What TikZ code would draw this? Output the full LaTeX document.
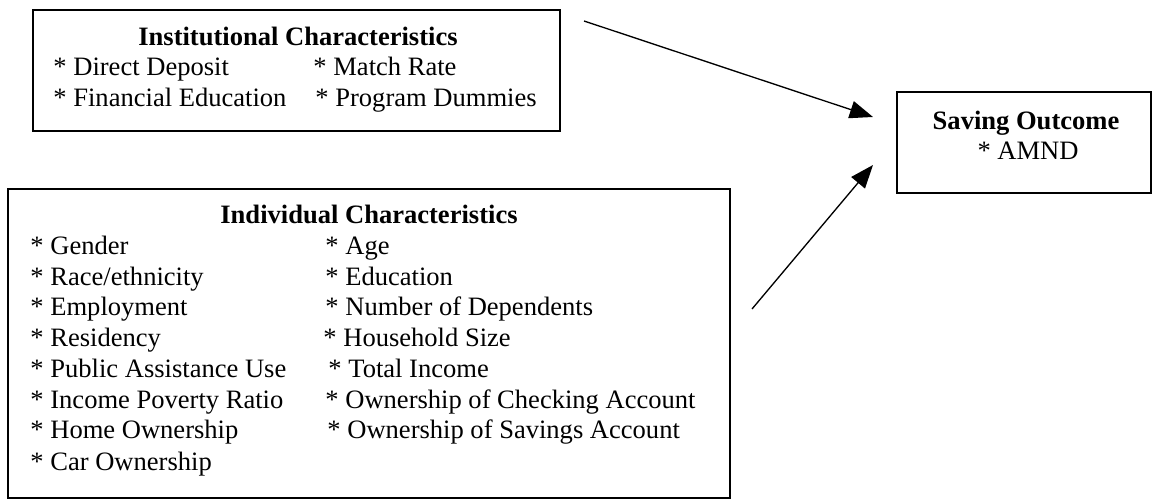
\documentclass[tikz,border=0pt]{standalone}
\usepackage{fontspec}
\setmainfont{Liberation Serif}
\usetikzlibrary{arrows.meta,fit}
\begin{document}
\begin{tikzpicture}[x=0.452pt,y=-0.452pt,
  box/.style={draw, line width=0.8pt, inner sep=0pt},
  txt/.style={anchor=base west, inner sep=0pt, font=\fontsize{12}{14}\selectfont},
  ttl/.style={anchor=base, inner sep=0pt, font=\fontsize{12}{14}\selectfont\bfseries},
  link/.style={-{Triangle[length=10.5pt,width=8pt]}, line width=0.6pt}]
\useasboundingbox (0,0) rectangle (1154,500);
% boxes
\node[box, fit={(33,10) (560,131)}] (inst) {};
\node[box, fit={(8,189) (730,498)}] (indiv) {};
\node[box, fit={(897,92) (1151,193)}] (outcome) {};
% institutional
\node[ttl] (instT) at (298,46) {Institutional Characteristics};
\node[txt] (i1) at (53,76) {* Direct Deposit};
\node[txt] (i2) at (313,76) {* Match Rate};
\node[txt] (i3) at (53,107) {* Financial Education};
\node[txt] (i4) at (315,107) {* Program Dummies};
% individual
\node[ttl] (indT) at (369,224) {Individual Characteristics};
\node[txt] (d1) at (30,255) {* Gender};
\node[txt] (d2) at (325,255) {* Age};
\node[txt] (d3) at (30,286) {* Race/ethnicity};
\node[txt] (d4) at (325,286) {* Education};
\node[txt] (d5) at (30,316) {* Employment};
\node[txt] (d6) at (325,316) {* Number of Dependents};
\node[txt] (d7) at (30,347) {* Residency};
\node[txt] (d8) at (323,347) {* Household Size};
\node[txt] (d9) at (30,378) {* Public Assistance Use};
\node[txt] (d10) at (328,378) {* Total Income};
\node[txt] (d11) at (30,408) {* Income Poverty Ratio};
\node[txt] (d12) at (325,408) {* Ownership of Checking Account};
\node[txt] (d13) at (30,439) {* Home Ownership};
\node[txt] (d14) at (327,439) {* Ownership of Savings Account};
\node[txt] (d15) at (30,470) {* Car Ownership};
% outcome
\node[ttl] (outT) at (1026,130) {Saving Outcome};
\node[ttl, font=\fontsize{12}{14}\selectfont] (outA) at (1028,160) {* AMND};
% arrows
\coordinate (a1s) at (584,21);
\coordinate (a1e) at (873,117);
\coordinate (a2s) at (752,309);
\coordinate (a2e) at (873,165);
\draw[link] (a1s) -- (a1e);
\draw[link] (a2s) -- (a2e);
\end{tikzpicture}
\end{document}
